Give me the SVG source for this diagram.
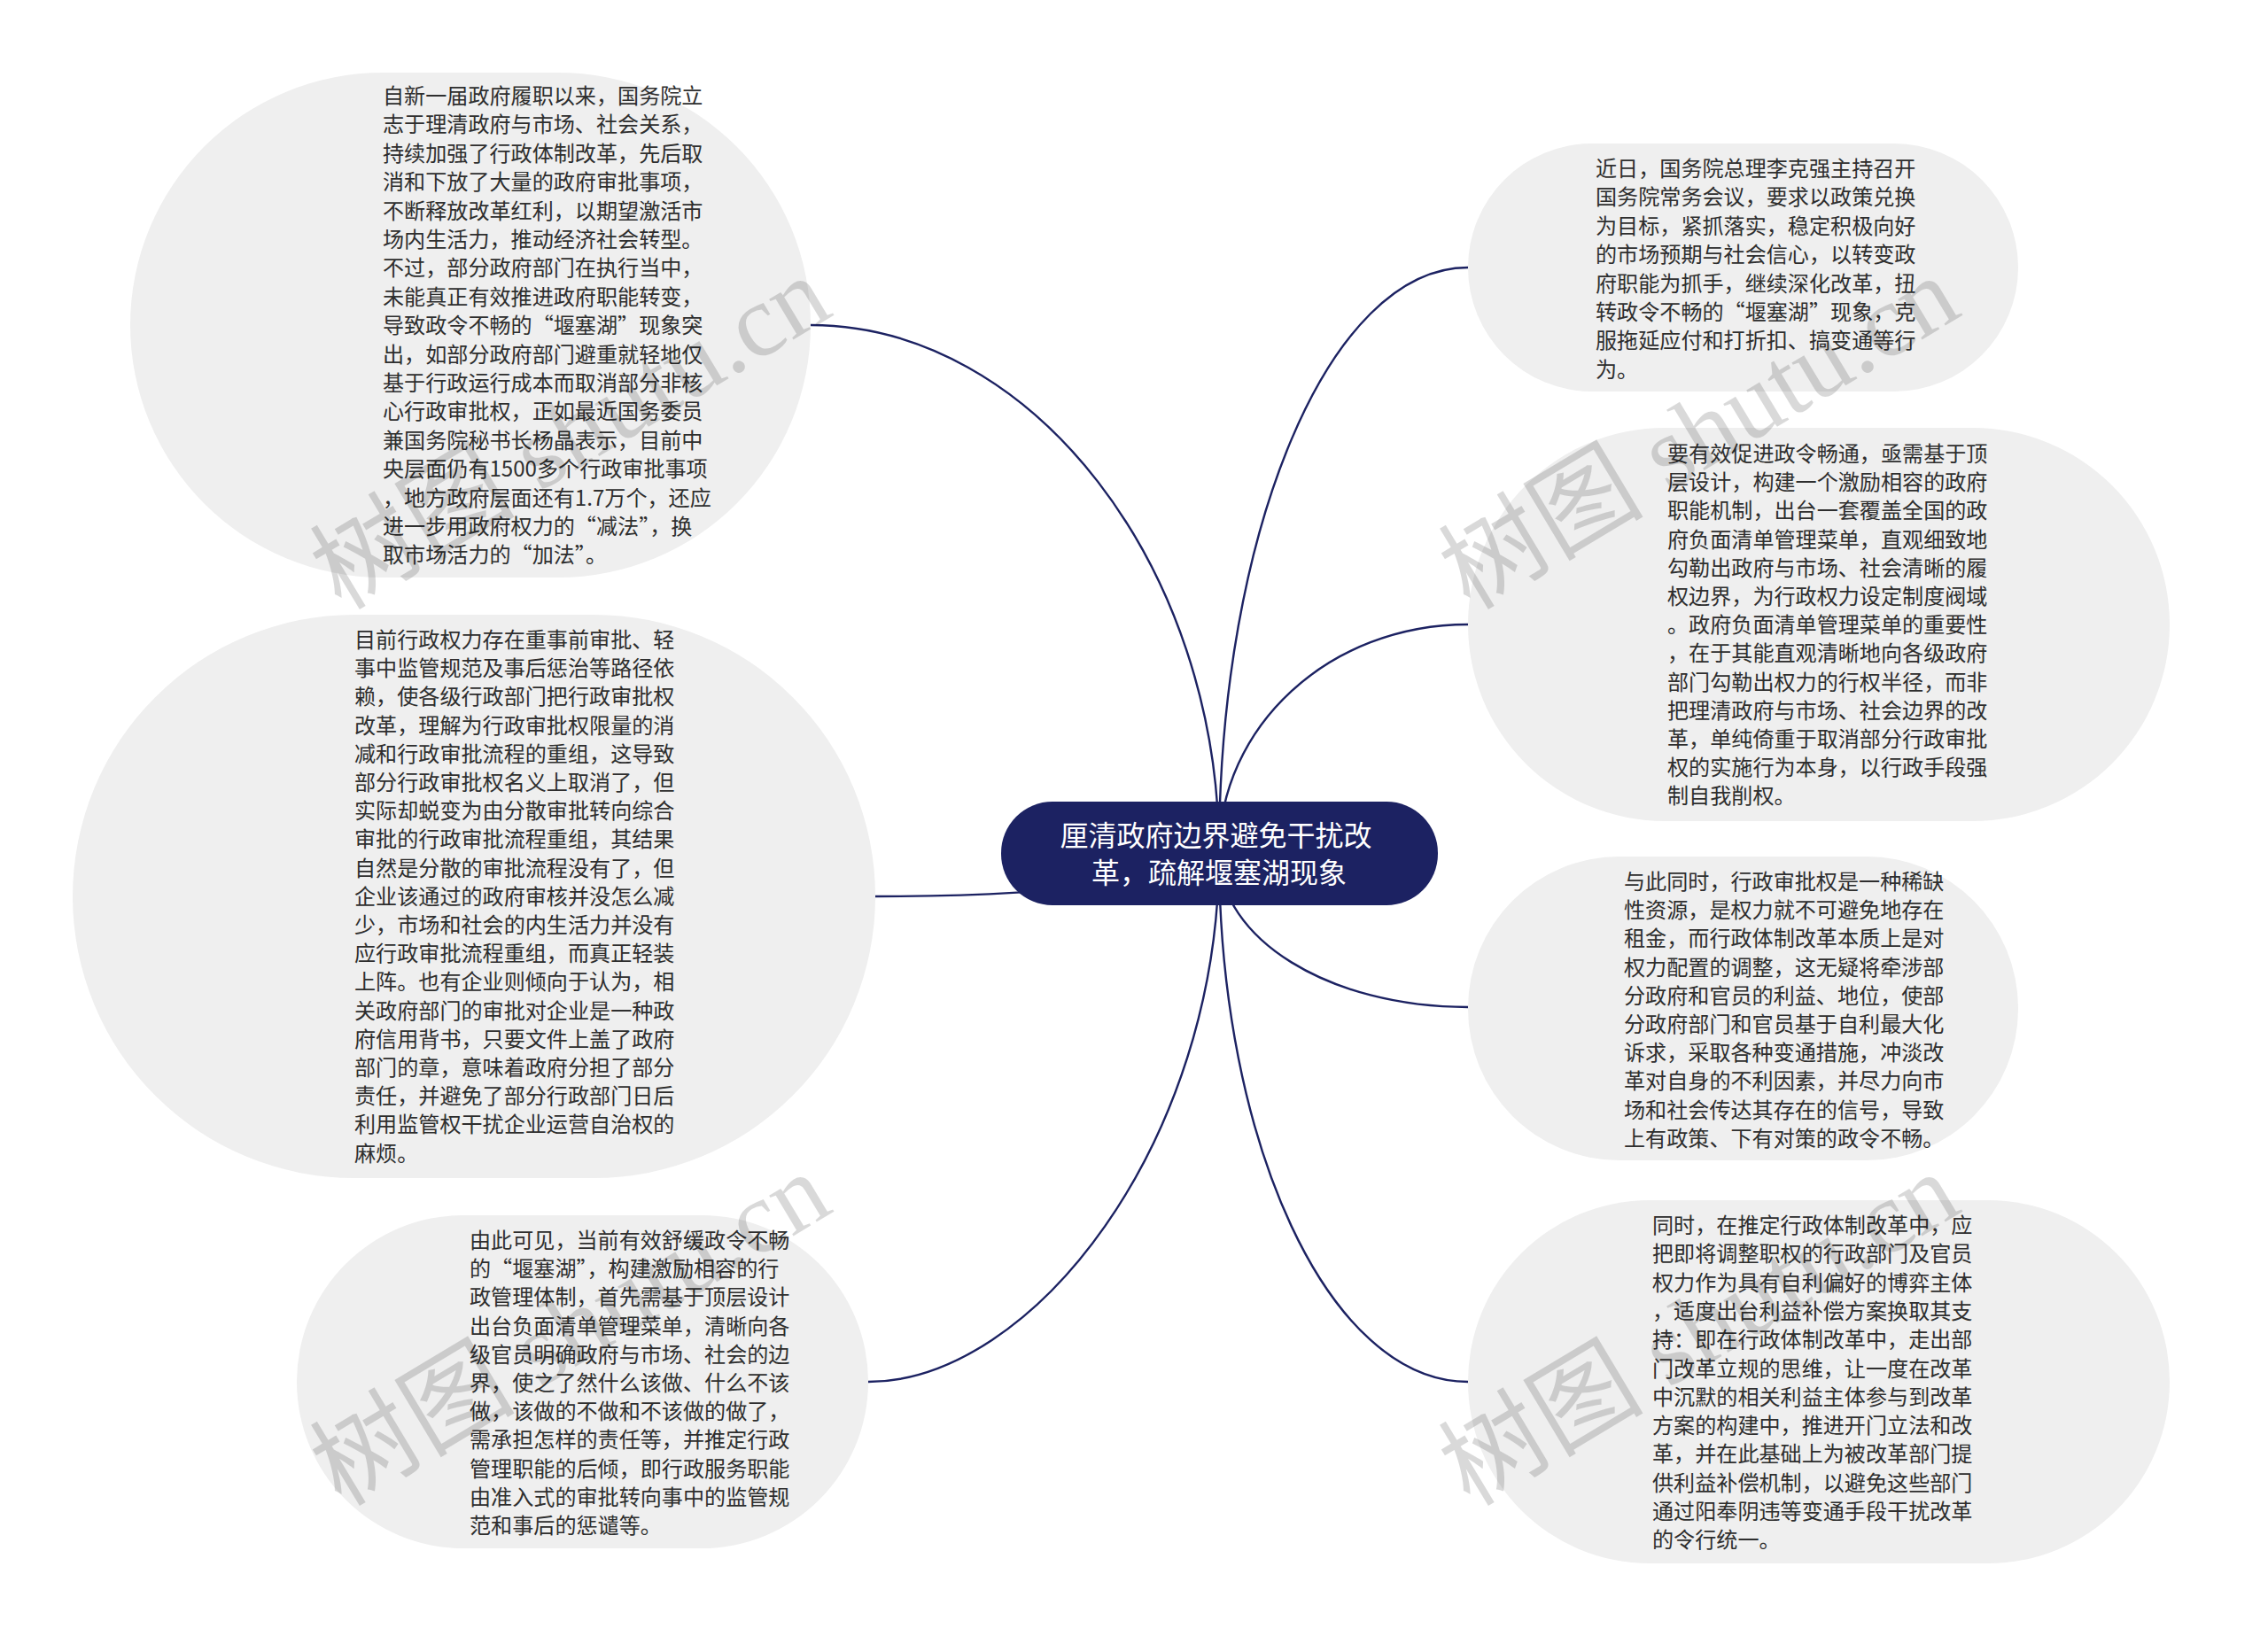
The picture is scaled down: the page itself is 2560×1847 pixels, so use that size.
<svg xmlns="http://www.w3.org/2000/svg" width="2560" height="1847" viewBox="0 0 2560 1847">
<defs>
<style>
.bg{fill:#ffffff}
.node{fill:#efefef}
.txt{font-family:"Noto Sans CJK SC","Noto Sans",sans-serif;font-size:24.1px;fill:#2e2e2e}
.root{fill:#1c2262}
.rtxt{font-family:"Noto Sans CJK SC","Noto Sans",sans-serif;font-size:32px;fill:#ffffff;text-anchor:middle}
.link{fill:none;stroke:#1c2262;stroke-width:2.4}
.wm{font-family:"Liberation Serif","Noto Sans CJK SC",serif;font-size:116px;fill:#000000;fill-opacity:0.15}
</style>
</defs>
<rect class="bg" x="0" y="0" width="2560" height="1847"/>
<g id="connectors">
<path class="link" d="M915 367 C1165 367 1376 640 1376 963"/>
<path class="link" d="M988 1012 C1200 1012 1376 990 1376 963"/>
<path class="link" d="M980 1560 C1165 1560 1376 1290 1376 963"/>
<path class="link" d="M1657 302 C1500 302 1376 600 1376 963"/>
<path class="link" d="M1657 705 C1500 705 1376 820 1376 963"/>
<path class="link" d="M1657 1137 C1500 1137 1376 1060 1376 963"/>
<path class="link" d="M1657 1560 C1500 1560 1376 1290 1376 963"/>
</g>
<g id="node-tl">
<rect class="node" x="147" y="82" width="768" height="570" rx="285" ry="285"/>
<text class="txt" x="432" y="117">
<tspan x="432" dy="0">自新一届政府履职以来，国务院立</tspan>
<tspan x="432" dy="32.4">志于理清政府与市场、社会关系，</tspan>
<tspan x="432" dy="32.4">持续加强了行政体制改革，先后取</tspan>
<tspan x="432" dy="32.4">消和下放了大量的政府审批事项，</tspan>
<tspan x="432" dy="32.4">不断释放改革红利，以期望激活市</tspan>
<tspan x="432" dy="32.4">场内生活力，推动经济社会转型。</tspan>
<tspan x="432" dy="32.4">不过，部分政府部门在执行当中，</tspan>
<tspan x="432" dy="32.4">未能真正有效推进政府职能转变，</tspan>
<tspan x="432" dy="32.4">导致政令不畅的“堰塞湖”现象突</tspan>
<tspan x="432" dy="32.4">出，如部分政府部门避重就轻地仅</tspan>
<tspan x="432" dy="32.4">基于行政运行成本而取消部分非核</tspan>
<tspan x="432" dy="32.4">心行政审批权，正如最近国务委员</tspan>
<tspan x="432" dy="32.4">兼国务院秘书长杨晶表示，目前中</tspan>
<tspan x="432" dy="32.4">央层面仍有1500多个行政审批事项</tspan>
<tspan x="432" dy="32.4">，地方政府层面还有1.7万个，还应</tspan>
<tspan x="432" dy="32.4">进一步用政府权力的“减法”，换</tspan>
<tspan x="432" dy="32.4">取市场活力的“加法”。</tspan>
</text>
</g>
<g id="node-ml">
<rect class="node" x="82" y="694" width="906" height="636" rx="318" ry="318"/>
<text class="txt" x="400" y="731">
<tspan x="400" dy="0">目前行政权力存在重事前审批、轻</tspan>
<tspan x="400" dy="32.2">事中监管规范及事后惩治等路径依</tspan>
<tspan x="400" dy="32.2">赖，使各级行政部门把行政审批权</tspan>
<tspan x="400" dy="32.2">改革，理解为行政审批权限量的消</tspan>
<tspan x="400" dy="32.2">减和行政审批流程的重组，这导致</tspan>
<tspan x="400" dy="32.2">部分行政审批权名义上取消了，但</tspan>
<tspan x="400" dy="32.2">实际却蜕变为由分散审批转向综合</tspan>
<tspan x="400" dy="32.2">审批的行政审批流程重组，其结果</tspan>
<tspan x="400" dy="32.2">自然是分散的审批流程没有了，但</tspan>
<tspan x="400" dy="32.2">企业该通过的政府审核并没怎么减</tspan>
<tspan x="400" dy="32.2">少，市场和社会的内生活力并没有</tspan>
<tspan x="400" dy="32.2">应行政审批流程重组，而真正轻装</tspan>
<tspan x="400" dy="32.2">上阵。也有企业则倾向于认为，相</tspan>
<tspan x="400" dy="32.2">关政府部门的审批对企业是一种政</tspan>
<tspan x="400" dy="32.2">府信用背书，只要文件上盖了政府</tspan>
<tspan x="400" dy="32.2">部门的章，意味着政府分担了部分</tspan>
<tspan x="400" dy="32.2">责任，并避免了部分行政部门日后</tspan>
<tspan x="400" dy="32.2">利用监管权干扰企业运营自治权的</tspan>
<tspan x="400" dy="32.2">麻烦。</tspan>
</text>
</g>
<g id="node-bl">
<rect class="node" x="335" y="1372" width="645" height="376" rx="188" ry="188"/>
<text class="txt" x="530" y="1409">
<tspan x="530" dy="0">由此可见，当前有效舒缓政令不畅</tspan>
<tspan x="530" dy="32.2">的“堰塞湖”，构建激励相容的行</tspan>
<tspan x="530" dy="32.2">政管理体制，首先需基于顶层设计</tspan>
<tspan x="530" dy="32.2">出台负面清单管理菜单，清晰向各</tspan>
<tspan x="530" dy="32.2">级官员明确政府与市场、社会的边</tspan>
<tspan x="530" dy="32.2">界，使之了然什么该做、什么不该</tspan>
<tspan x="530" dy="32.2">做，该做的不做和不该做的做了，</tspan>
<tspan x="530" dy="32.2">需承担怎样的责任等，并推定行政</tspan>
<tspan x="530" dy="32.2">管理职能的后倾，即行政服务职能</tspan>
<tspan x="530" dy="32.2">由准入式的审批转向事中的监管规</tspan>
<tspan x="530" dy="32.2">范和事后的惩谴等。</tspan>
</text>
</g>
<g id="node-r1">
<rect class="node" x="1657" y="162" width="621" height="280" rx="140" ry="140"/>
<text class="txt" x="1801" y="199">
<tspan x="1801" dy="0">近日，国务院总理李克强主持召开</tspan>
<tspan x="1801" dy="32.4">国务院常务会议，要求以政策兑换</tspan>
<tspan x="1801" dy="32.4">为目标，紧抓落实，稳定积极向好</tspan>
<tspan x="1801" dy="32.4">的市场预期与社会信心，以转变政</tspan>
<tspan x="1801" dy="32.4">府职能为抓手，继续深化改革，扭</tspan>
<tspan x="1801" dy="32.4">转政令不畅的“堰塞湖”现象，克</tspan>
<tspan x="1801" dy="32.4">服拖延应付和打折扣、搞变通等行</tspan>
<tspan x="1801" dy="32.4">为。</tspan>
</text>
</g>
<g id="node-r2">
<rect class="node" x="1657" y="483" width="792" height="444" rx="222" ry="222"/>
<text class="txt" x="1882" y="521">
<tspan x="1882" dy="0">要有效促进政令畅通，亟需基于顶</tspan>
<tspan x="1882" dy="32.2">层设计，构建一个激励相容的政府</tspan>
<tspan x="1882" dy="32.2">职能机制，出台一套覆盖全国的政</tspan>
<tspan x="1882" dy="32.2">府负面清单管理菜单，直观细致地</tspan>
<tspan x="1882" dy="32.2">勾勒出政府与市场、社会清晰的履</tspan>
<tspan x="1882" dy="32.2">权边界，为行政权力设定制度阀域</tspan>
<tspan x="1882" dy="32.2">。政府负面清单管理菜单的重要性</tspan>
<tspan x="1882" dy="32.2">，在于其能直观清晰地向各级政府</tspan>
<tspan x="1882" dy="32.2">部门勾勒出权力的行权半径，而非</tspan>
<tspan x="1882" dy="32.2">把理清政府与市场、社会边界的改</tspan>
<tspan x="1882" dy="32.2">革，单纯倚重于取消部分行政审批</tspan>
<tspan x="1882" dy="32.2">权的实施行为本身，以行政手段强</tspan>
<tspan x="1882" dy="32.2">制自我削权。</tspan>
</text>
</g>
<g id="node-r3">
<rect class="node" x="1657" y="967" width="621" height="343" rx="171" ry="171"/>
<text class="txt" x="1833" y="1004">
<tspan x="1833" dy="0">与此同时，行政审批权是一种稀缺</tspan>
<tspan x="1833" dy="32.2">性资源，是权力就不可避免地存在</tspan>
<tspan x="1833" dy="32.2">租金，而行政体制改革本质上是对</tspan>
<tspan x="1833" dy="32.2">权力配置的调整，这无疑将牵涉部</tspan>
<tspan x="1833" dy="32.2">分政府和官员的利益、地位，使部</tspan>
<tspan x="1833" dy="32.2">分政府部门和官员基于自利最大化</tspan>
<tspan x="1833" dy="32.2">诉求，采取各种变通措施，冲淡改</tspan>
<tspan x="1833" dy="32.2">革对自身的不利因素，并尽力向市</tspan>
<tspan x="1833" dy="32.2">场和社会传达其存在的信号，导致</tspan>
<tspan x="1833" dy="32.2">上有政策、下有对策的政令不畅。</tspan>
</text>
</g>
<g id="node-r4">
<rect class="node" x="1657" y="1355" width="792" height="410" rx="205" ry="205"/>
<text class="txt" x="1865" y="1392">
<tspan x="1865" dy="0">同时，在推定行政体制改革中，应</tspan>
<tspan x="1865" dy="32.3">把即将调整职权的行政部门及官员</tspan>
<tspan x="1865" dy="32.3">权力作为具有自利偏好的博弈主体</tspan>
<tspan x="1865" dy="32.3">，适度出台利益补偿方案换取其支</tspan>
<tspan x="1865" dy="32.3">持：即在行政体制改革中，走出部</tspan>
<tspan x="1865" dy="32.3">门改革立规的思维，让一度在改革</tspan>
<tspan x="1865" dy="32.3">中沉默的相关利益主体参与到改革</tspan>
<tspan x="1865" dy="32.3">方案的构建中，推进开门立法和改</tspan>
<tspan x="1865" dy="32.3">革，并在此基础上为被改革部门提</tspan>
<tspan x="1865" dy="32.3">供利益补偿机制，以避免这些部门</tspan>
<tspan x="1865" dy="32.3">通过阳奉阴违等变通手段干扰改革</tspan>
<tspan x="1865" dy="32.3">的令行统一。</tspan>
</text>
</g>
<g id="node-root">
<rect class="root" x="1130" y="905" width="493" height="117" rx="58" ry="58"/>
<text class="rtxt" x="1376" y="955">
<tspan x="1376" dy="0">厘清政府边界避免干扰改</tspan>
<tspan x="1376" dy="42">革，疏解堰塞湖现象</tspan>
</text>
</g>
<g id="watermarks">
<text class="wm" transform="translate(385 690) rotate(-31)">树图 shutu.cn</text>
<text class="wm" transform="translate(1659 690) rotate(-31)">树图 shutu.cn</text>
<text class="wm" transform="translate(385 1702) rotate(-31)">树图 shutu.cn</text>
<text class="wm" transform="translate(1659 1702) rotate(-31)">树图 shutu.cn</text>
</g>
</svg>
